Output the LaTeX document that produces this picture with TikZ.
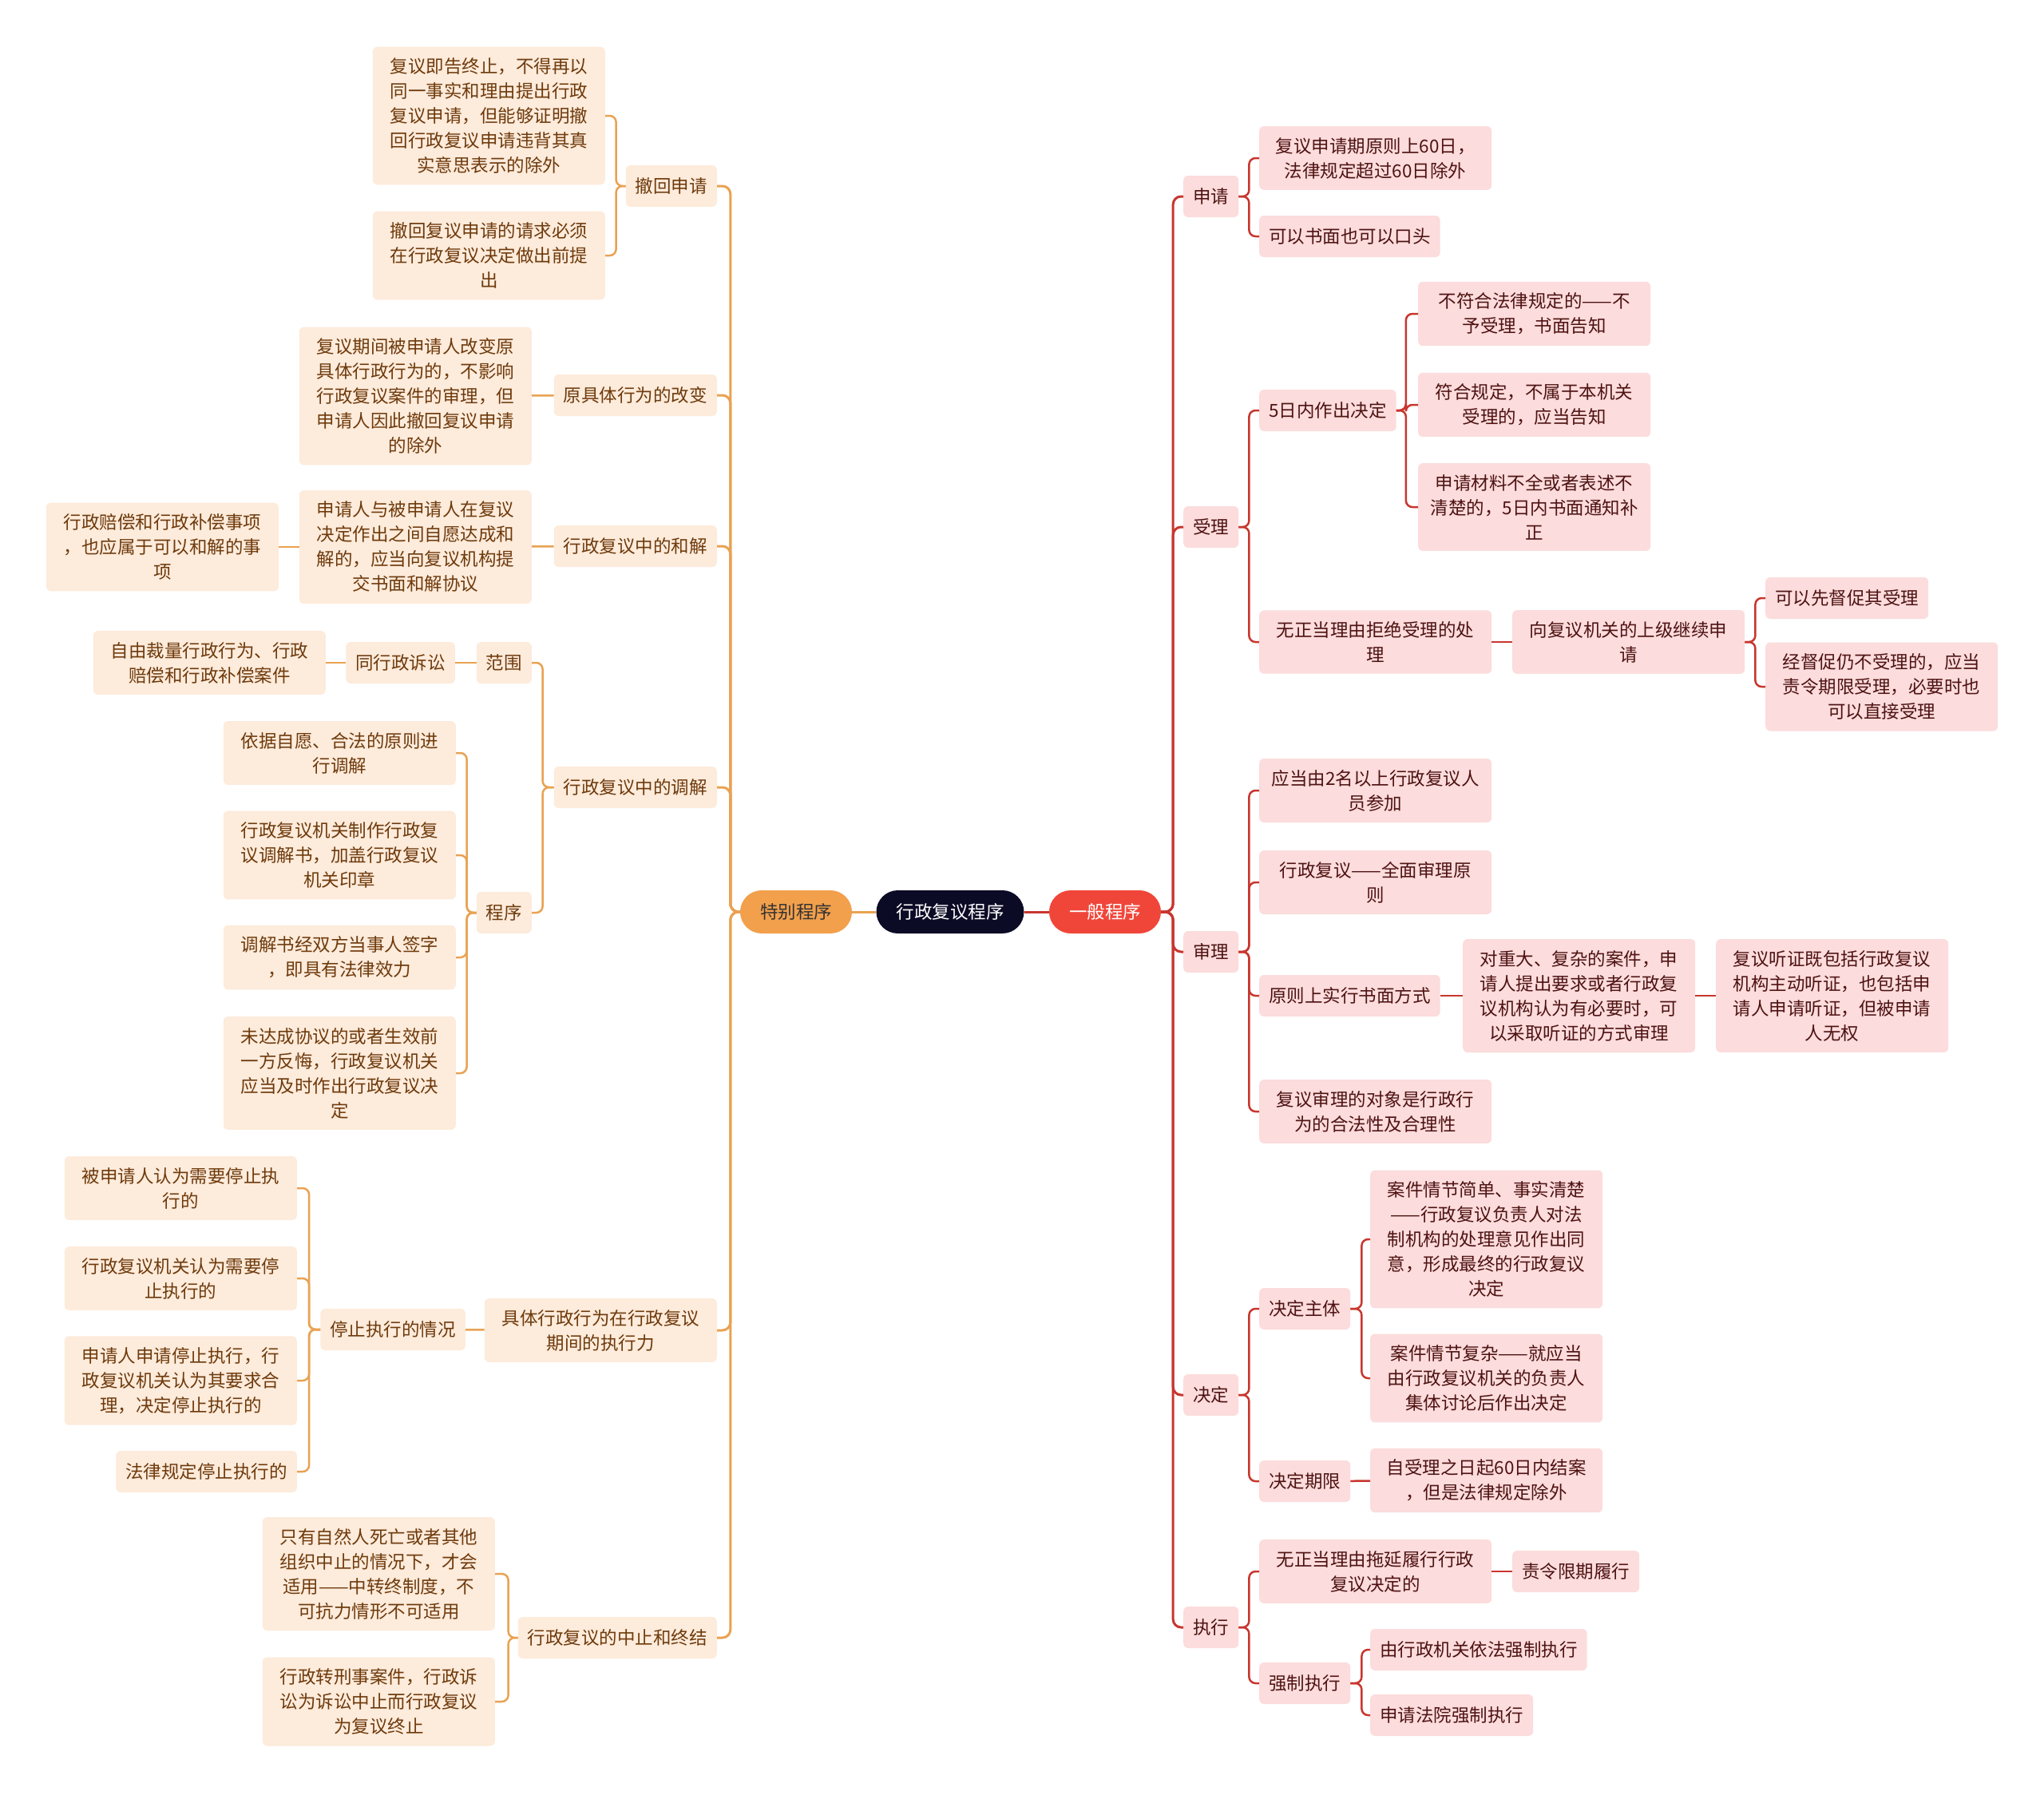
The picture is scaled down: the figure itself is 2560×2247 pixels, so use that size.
\documentclass[tikz,border=0pt]{standalone}
\usepackage{fontspec}
\usepackage{tikz}
\usetikzlibrary{positioning}
\newfontfamily\cjk{Noto Sans CJK SC}

\definecolor{rootNavy}{HTML}{0B0B26}
\definecolor{genRed}{HTML}{F0463A}
\definecolor{specOrange}{HTML}{F2A04C}
\definecolor{redLine}{HTML}{C8362E}
\definecolor{redFill}{HTML}{FCDCDC}
\definecolor{redText}{HTML}{4E1212}
\definecolor{orangeLine}{HTML}{E9A252}
\definecolor{orangeFill}{HTML}{FDEBDB}
\definecolor{orangeText}{HTML}{6E3A0C}

\begin{document}
\begin{tikzpicture}[
        x=1pt, y=-1pt,
        base/.style={
            rectangle, rounded corners=6pt, inner xsep=12pt, inner ysep=14pt,
            minimum height=52pt, align=center,
            font=\cjk\fontsize{22.5}{31}\selectfont
        },
        redBox/.style={base, fill=redFill, text=redText, anchor=west},
        redWide/.style={redBox, text width=267pt},
        orangeBox/.style={base, fill=orangeFill, text=orangeText, anchor=east},
        orangeWide/.style={orangeBox, text width=267pt},
        pill/.style={
            base, rounded corners=27pt, minimum height=54pt, inner xsep=25pt
        },
        rtrunk/.style={draw=redLine, line width=3pt, rounded corners=10pt},
        rlink/.style={draw=redLine, line width=2.5pt, rounded corners=8pt},
        otrunk/.style={draw=orangeLine, line width=3pt, rounded corners=10pt},
        olink/.style={draw=orangeLine, line width=2.5pt, rounded corners=8pt}
    ]
        \path[fill=white, use as bounding box] (0,0) rectangle (2560,2247);

        % Center Nodes
        \node (root) [pill, fill=rootNavy, text=white] at (1190,1142) {行政复议程序};
        \node (gen) [pill, fill=genRed, text=white] at (1384,1142) {一般程序};
        \node (spec) [pill, fill=specOrange, text=black!80] at (997,1142) {特别程序};

        % General Procedure Nodes
        \node (apply) [redBox] at (1482,246) {申请};
        \node (apply1) [redWide] at (1577,198) {复议申请期原则上60日，\\法律规定超过60日除外};
        \node (apply2) [redBox] at (1577,296) {可以书面也可以口头};

        \node (accept) [redBox] at (1482,660) {受理};
        \node (acc5) [redBox] at (1577,514) {5日内作出决定};
        \node (acc5a) [redWide] at (1776,393) {不符合法律规定的——不\\予受理，书面告知};
        \node (acc5b) [redWide] at (1776,507) {符合规定，不属于本机关\\受理的，应当告知};
        \node (acc5c) [redWide] at (1776,635) {申请材料不全或者表述不\\清楚的，5日内书面通知补\\正};
        \node (accRef) [redWide] at (1577,804) {无正当理由拒绝受理的处\\理};
        \node (accUp) [redWide] at (1894,804) {向复议机关的上级继续申\\请};
        \node (accUpA) [redBox] at (2211,749) {可以先督促其受理};
        \node (accUpB) [redWide] at (2211,860) {经督促仍不受理的，应当\\责令期限受理，必要时也\\可以直接受理};

        \node (review) [redBox] at (1482,1192) {审理};
        \node (rev1) [redWide] at (1577,990) {应当由2名以上行政复议人\\员参加};
        \node (rev2) [redWide] at (1577,1105) {行政复议——全面审理原\\则};
        \node (revWr) [redBox] at (1577,1247) {原则上实行书面方式};
        \node (revHear) [redWide] at (1832,1247) {对重大、复杂的案件，申\\请人提出要求或者行政复\\议机构认为有必要时，可\\以采取听证的方式审理};
        \node (revHearB) [redWide] at (2149,1247) {复议听证既包括行政复议\\机构主动听证，也包括申\\请人申请听证，但被申请\\人无权};
        \node (rev4) [redWide] at (1577,1392) {复议审理的对象是行政行\\为的合法性及合理性};

        \node (decide) [redBox] at (1482,1747) {决定};
        \node (decSub) [redBox] at (1577,1639) {决定主体};
        \node (decSubA) [redWide] at (1716,1552) {案件情节简单、事实清楚\\——行政复议负责人对法\\制机构的处理意见作出同\\意，形成最终的行政复议\\决定};
        \node (decSubB) [redWide] at (1716,1726) {案件情节复杂——就应当\\由行政复议机关的负责人\\集体讨论后作出决定};
        \node (decTerm) [redBox] at (1577,1855) {决定期限};
        \node (decTermA) [redWide] at (1716,1854) {自受理之日起60日内结案\\，但是法律规定除外};

        \node (exec) [redBox] at (1482,2038) {执行};
        \node (exDelay) [redWide] at (1577,1968) {无正当理由拖延履行行政\\复议决定的};
        \node (exDelayA) [redBox] at (1894,1968) {责令限期履行};
        \node (exForce) [redBox] at (1577,2108) {强制执行};
        \node (exForceA) [redBox] at (1716,2066) {由行政机关依法强制执行};
        \node (exForceB) [redBox] at (1716,2148) {申请法院强制执行};

        % Special Procedure Nodes
        \node (withdraw) [orangeBox] at (898,233) {撤回申请};
        \node (withdrawA) [orangeWide] at (758,145) {复议即告终止，不得再以\\同一事实和理由提出行政\\复议申请，但能够证明撤\\回行政复议申请违背其真\\实意思表示的除外};
        \node (withdrawB) [orangeWide] at (758,320) {撤回复议申请的请求必须\\在行政复议决定做出前提\\出};

        \node (change) [orangeBox] at (898,495) {原具体行为的改变};
        \node (changeA) [orangeWide] at (666,496) {复议期间被申请人改变原\\具体行政行为的，不影响\\行政复议案件的审理，但\\申请人因此撤回复议申请\\的除外};

        \node (settle) [orangeBox] at (898,684) {行政复议中的和解};
        \node (settleA) [orangeWide] at (666,685) {申请人与被申请人在复议\\决定作出之间自愿达成和\\解的，应当向复议机构提\\交书面和解协议};
        \node (settleB) [orangeWide] at (349,685) {行政赔偿和行政补偿事项\\，也应属于可以和解的事\\项};

        \node (mediate) [orangeBox] at (898,986) {行政复议中的调解};
        \node (medScope) [orangeBox] at (666,830) {范围};
        \node (medScopeA) [orangeBox] at (570,830) {同行政诉讼};
        \node (medScopeB) [orangeWide] at (408,830) {自由裁量行政行为、行政\\赔偿和行政补偿案件};
        \node (medProc) [orangeBox] at (666,1143) {程序};
        \node (medProcA) [orangeWide] at (571,943) {依据自愿、合法的原则进\\行调解};
        \node (medProcB) [orangeWide] at (571,1071) {行政复议机关制作行政复\\议调解书，加盖行政复议\\机关印章};
        \node (medProcC) [orangeWide] at (571,1199) {调解书经双方当事人签字\\，即具有法律效力};
        \node (medProcD) [orangeWide] at (571,1344) {未达成协议的或者生效前\\一方反悔，行政复议机关\\应当及时作出行政复议决\\定};

        \node (effect) [orangeWide] at (898,1666) {具体行政行为在行政复议\\期间的执行力};
        \node (stopCase) [orangeBox] at (583,1665) {停止执行的情况};
        \node (stopA) [orangeWide] at (372,1488) {被申请人认为需要停止执\\行的};
        \node (stopB) [orangeWide] at (372,1601) {行政复议机关认为需要停\\止执行的};
        \node (stopC) [orangeWide] at (372,1729) {申请人申请停止执行，行\\政复议机关认为其要求合\\理，决定停止执行的};
        \node (stopD) [orangeBox] at (372,1843) {法律规定停止执行的};

        \node (suspend) [orangeBox] at (898,2051) {行政复议的中止和终结};
        \node (suspendA) [orangeWide] at (620,1971) {只有自然人死亡或者其他\\组织中止的情况下，才会\\适用——中转终制度，不\\可抗力情形不可适用};
        \node (suspendB) [orangeWide] at (620,2131) {行政转刑事案件，行政诉\\讼为诉讼中止而行政复议\\为复议终止};

        % Connectors
        \draw [rtrunk] (root.east) -- (gen.west);
        \draw [otrunk] (root.west) -- (spec.east);

        \draw [rtrunk] (gen.east) -- ++(15,0) |- (apply.west);
        \draw [rtrunk] (gen.east) -- ++(15,0) |- (accept.west);
        \draw [rtrunk] (gen.east) -- ++(15,0) |- (review.west);
        \draw [rtrunk] (gen.east) -- ++(15,0) |- (decide.west);
        \draw [rtrunk] (gen.east) -- ++(15,0) |- (exec.west);

        \draw [rlink] (apply.east) -- ++(13,0) |- (apply1.west);
        \draw [rlink] (apply.east) -- ++(13,0) |- (apply2.west);
        \draw [rlink] (accept.east) -- ++(13,0) |- (acc5.west);
        \draw [rlink] (accept.east) -- ++(13,0) |- (accRef.west);
        \draw [rlink] (acc5.east) -- ++(12,0) |- (acc5a.west);
        \draw [rlink] (acc5.east) -- ++(12,0) |- (acc5b.west);
        \draw [rlink] (acc5.east) -- ++(12,0) |- (acc5c.west);
        \draw [rlink] (accRef) -- (accUp);
        \draw [rlink] (accUp.east) -- ++(13,0) |- (accUpA.west);
        \draw [rlink] (accUp.east) -- ++(13,0) |- (accUpB.west);

        \draw [rlink] (review.east) -- ++(13,0) |- (rev1.west);
        \draw [rlink] (review.east) -- ++(13,0) |- (rev2.west);
        \draw [rlink] (review.east) -- ++(13,0) |- (revWr.west);
        \draw [rlink] (review.east) -- ++(13,0) |- (rev4.west);
        \draw [rlink] (revWr) -- (revHear);
        \draw [rlink] (revHear) -- (revHearB);

        \draw [rlink] (decide.east) -- ++(13,0) |- (decSub.west);
        \draw [rlink] (decide.east) -- ++(13,0) |- (decTerm.west);
        \draw [rlink] (decSub.east) -- ++(14,0) |- (decSubA.west);
        \draw [rlink] (decSub.east) -- ++(14,0) |- (decSubB.west);
        \draw [rlink] (decTerm) -- (decTermA);

        \draw [rlink] (exec.east) -- ++(13,0) |- (exDelay.west);
        \draw [rlink] (exec.east) -- ++(13,0) |- (exForce.west);
        \draw [rlink] (exDelay) -- (exDelayA);
        \draw [rlink] (exForce.east) -- ++(14,0) |- (exForceA.west);
        \draw [rlink] (exForce.east) -- ++(14,0) |- (exForceB.west);

        \draw [otrunk] (spec.west) -- ++(-12,0) |- (withdraw.east);
        \draw [otrunk] (spec.west) -- ++(-12,0) |- (change.east);
        \draw [otrunk] (spec.west) -- ++(-12,0) |- (settle.east);
        \draw [otrunk] (spec.west) -- ++(-12,0) |- (mediate.east);
        \draw [otrunk] (spec.west) -- ++(-12,0) |- (effect.east);
        \draw [otrunk] (spec.west) -- ++(-12,0) |- (suspend.east);

        \draw [olink] (withdraw.west) -- ++(-12,0) |- (withdrawA.east);
        \draw [olink] (withdraw.west) -- ++(-12,0) |- (withdrawB.east);
        \draw [olink] (change) -- (changeA);
        \draw [olink] (settle) -- (settleA);
        \draw [olink] (settleA) -- (settleB);

        \draw [olink] (mediate.west) -- ++(-14,0) |- (medScope.east);
        \draw [olink] (mediate.west) -- ++(-14,0) |- (medProc.east);
        \draw [olink] (medScope) -- (medScopeA);
        \draw [olink] (medScopeA) -- (medScopeB);
        \draw [olink] (medProc.west) -- ++(-12,0) |- (medProcA.east);
        \draw [olink] (medProc.west) -- ++(-12,0) |- (medProcB.east);
        \draw [olink] (medProc.west) -- ++(-12,0) |- (medProcC.east);
        \draw [olink] (medProc.west) -- ++(-12,0) |- (medProcD.east);

        \draw [olink] (effect) -- (stopCase);
        \draw [olink] (stopCase.west) -- ++(-14,0) |- (stopA.east);
        \draw [olink] (stopCase.west) -- ++(-14,0) |- (stopB.east);
        \draw [olink] (stopCase.west) -- ++(-14,0) |- (stopC.east);
        \draw [olink] (stopCase.west) -- ++(-14,0) |- (stopD.east);

        \draw [olink] (suspend.west) -- ++(-12,0) |- (suspendA.east);
        \draw [olink] (suspend.west) -- ++(-12,0) |- (suspendB.east);
    \end{tikzpicture}
\end{document}
